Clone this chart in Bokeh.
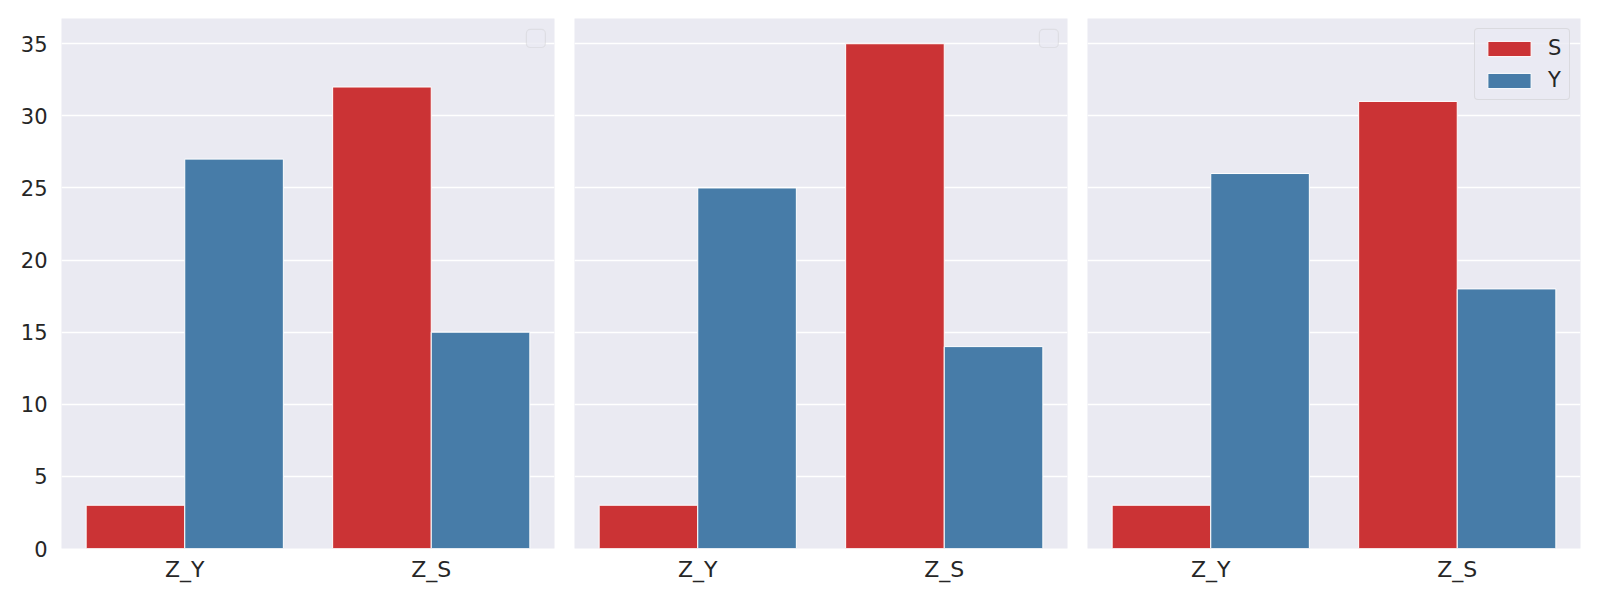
from bokeh.plotting import figure
from bokeh.layouts import row
from bokeh.models import ColumnDataSource, FactorRange, Range1d, FixedTicker, Legend, LegendItem, BoxAnnotation
from bokeh.transform import dodge
from bokeh.embed import file_html
from bokeh.resources import INLINE

categories = ["Z_Y", "Z_S"]
series = ["S", "Y"]
colors = ["#cb3335", "#477ca8"]

panel1_S = [3, 32]
panel1_Y = [27, 15]
panel2_S = [3, 35]
panel2_Y = [25, 14]
panel3_S = [3, 31]
panel3_Y = [26, 18]

y_ticks = [0, 5, 10, 15, 20, 25, 30, 35]
y_max = 36.75

panels = [(panel1_S, panel1_Y), (panel2_S, panel2_Y), (panel3_S, panel3_Y)]

BG = "#eaeaf2"
TXT = "#262626"
FONT = "DejaVu Sans"

figs = []
for i, (s_vals, y_vals) in enumerate(panels):
    src = ColumnDataSource(dict(cat=categories, S=s_vals, Y=y_vals))
    p = figure(
        x_range=FactorRange(factors=categories),
        y_range=Range1d(0, y_max),
        frame_width=493, frame_height=530,
        output_backend="svg", toolbar_location=None,
        min_border_left=61 if i == 0 else 10,
        min_border_right=10, min_border_top=18, min_border_bottom=44,
        background_fill_color=BG, border_fill_color="white",
    )
    p.outline_line_color = None
    r_s = p.vbar(x=dodge("cat", -0.2, range=p.x_range), top="S", width=0.4, source=src,
                 fill_color=colors[0], line_color="white", line_width=1)
    r_y = p.vbar(x=dodge("cat", 0.2, range=p.x_range), top="Y", width=0.4, source=src,
                 fill_color=colors[1], line_color="white", line_width=1)

    p.xgrid.grid_line_color = None
    p.ygrid.grid_line_color = "white"
    p.ygrid.grid_line_width = 1.3
    p.yaxis.ticker = FixedTicker(ticks=y_ticks)

    for ax in (p.xaxis[0], p.yaxis[0]):
        ax.axis_line_color = None
        ax.major_tick_line_color = None
        ax.minor_tick_line_color = None
        ax.major_label_text_font = FONT
        ax.major_label_text_color = TXT
    p.xaxis.major_label_text_font_size = "22px"
    p.yaxis.major_label_text_font_size = "21px"
    p.xaxis.major_label_standoff = 2
    p.yaxis.major_label_standoff = 8
    if i > 0:
        p.yaxis.visible = False

    if i == 2:
        leg = Legend(items=[LegendItem(label=series[0], renderers=[r_s]),
                            LegendItem(label=series[1], renderers=[r_y])],
                     location="top_right")
        leg.glyph_width = 54
        leg.glyph_height = 19
        leg.label_width = 14
        leg.label_text_font = FONT
        leg.label_text_font_size = "21px"
        leg.label_text_color = TXT
        leg.label_standoff = 12
        leg.padding = 7
        leg.spacing = 8
        leg.margin = 10
        leg.border_line_color = "#cccccc"
        leg.border_line_width = 1
        leg.background_fill_color = BG
        leg.background_fill_alpha = 0.8
        leg.border_radius = 4
        p.add_layout(leg)
    else:
        # empty legend frame (no entries), as in the reference
        box = BoxAnnotation(left=1.886, right=1.963, bottom=34.74, top=35.99,
                            fill_color=BG, fill_alpha=0.8,
                            line_color="#c4c4c4", line_width=1.2, border_radius=4)
        p.add_layout(box)
    figs.append(p)

layout = row(*figs)
open("out.html", "w").write(file_html(layout, INLINE))
